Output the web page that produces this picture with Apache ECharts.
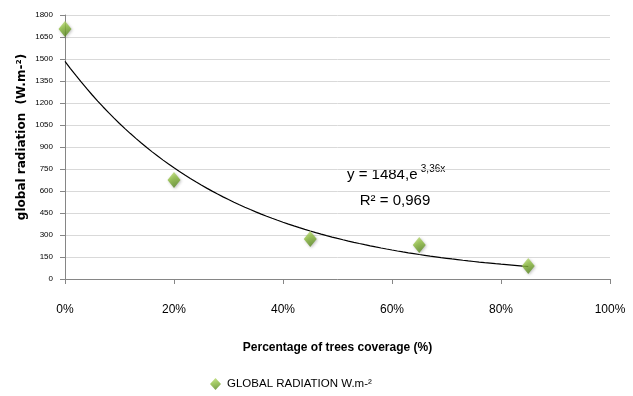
<!DOCTYPE html>
<html>
<head>
<meta charset="utf-8">
<script src="https://cdn.jsdelivr.net/npm/echarts@6/dist/echarts.min.js"></script>
<style>
  html, body { margin: 0; padding: 0; background: #fff; }
  #chart { width: 633px; height: 396px; }
</style>
</head>
<body>
<div id="chart"></div>
<script>
// Tree coverage (fraction) and measured global radiation (W.m-2)
const coverage = [0, 0.20, 0.45, 0.65, 0.85];
const radiation = [1705, 675, 272, 232, 89];

// Exponential trend line coefficients: y = a·e^(b·x)
const trendA = 1484;
const trendB = -3.36;
const trendR2 = '0,969';

const yTicks = { min: 0, max: 1800, interval: 150 };
const xTicks = { min: 0, max: 1, interval: 0.2 };

const FONT = '"Liberation Sans", Arial, sans-serif';
const WIDE = '"DejaVu Sans", Verdana, sans-serif';

// sample the trend curve over the measured range
const trend = [];
for (let i = 0; i <= 85; i++) {
  const x = i / 100;
  trend.push([x, trendA * Math.exp(trendB * x)]);
}

const diamondColor = {
  type: 'linear', x: 0, y: 0, x2: 0.3, y2: 1,
  colorStops: [
    { offset: 0, color: '#c2e07a' },
    { offset: 0.5, color: '#8cbc3e' },
    { offset: 1, color: '#5d8c24' }
  ]
};

const chart = echarts.init(document.getElementById('chart'));
chart.setOption({
  animation: false,
  backgroundColor: '#fff',
  grid: { left: 65, right: 23, top: 15, bottom: 117, containLabel: false },
  xAxis: {
    type: 'value',
    min: xTicks.min, max: xTicks.max, interval: xTicks.interval,
    name: 'Percentage of trees coverage (%)',
    nameLocation: 'middle', nameGap: 63,
    nameTextStyle: { fontFamily: FONT, fontSize: 12, fontWeight: 'bold', color: '#000' },
    axisLine: { lineStyle: { color: '#868686', width: 1 } },
    axisTick: { show: true, inside: false, length: 5, lineStyle: { color: '#868686' } },
    axisLabel: {
      fontFamily: FONT, fontSize: 12, color: '#000', margin: 25,
      formatter: v => Math.round(v * 100) + '%'
    },
    splitLine: { show: false }
  },
  yAxis: {
    type: 'value',
    min: yTicks.min, max: yTicks.max, interval: yTicks.interval,
    axisLine: { show: true, lineStyle: { color: '#868686', width: 1 } },
    axisTick: { show: true, inside: false, length: 5, lineStyle: { color: '#868686' } },
    axisLabel: {
      fontFamily: FONT, fontSize: 8, color: '#000', margin: 12,
      formatter: v => String(v)
    },
    splitLine: { show: true, lineStyle: { color: '#d9d9d9', width: 1 } }
  },
  legend: {
    bottom: 1, left: 205,
    data: [{ name: 'GLOBAL RADIATION W.m-²', icon: 'diamond' }],
    itemWidth: 11, itemHeight: 12,
    textStyle: { fontFamily: FONT, fontSize: 11.5, color: '#000', padding: [0, 0, 0, 1] }
  },
  series: [
    {
      name: 'trend',
      type: 'line',
      data: trend,
      showSymbol: false,
      symbol: 'none',
      lineStyle: { color: '#000', width: 1.2 },
      z: 2,
      silent: true
    },
    {
      name: 'GLOBAL RADIATION W.m-²',
      type: 'scatter',
      data: coverage.map((c, i) => [c, radiation[i]]),
      symbol: 'diamond',
      symbolSize: [13, 16],
      itemStyle: { color: diamondColor, shadowColor: 'rgba(0,0,0,0.3)', shadowBlur: 3, shadowOffsetX: 1, shadowOffsetY: 1 },
      z: 3
    }
  ],
  graphic: [
    {
      // vertical y-axis title
      type: 'text', x: 22, y: 137, rotation: Math.PI / 2,
      style: {
        text: 'global radiation  (W.m-²)',
        fontFamily: WIDE, fontSize: 12, fontWeight: 'bold', fill: '#000',
        align: 'center', verticalAlign: 'middle'
      }
    },
    {
      type: 'text', left: 347, top: 164,
      style: {
        text: '{a|y = ' + trendA + ',e}{s|' + String(trendB).replace('.', ',') + 'x}',
        rich: {
          a: { fontFamily: FONT, fontSize: 15, fill: '#000', verticalAlign: 'bottom' },
          s: { fontFamily: FONT, fontSize: 10, fill: '#000', verticalAlign: 'top', padding: [0, 0, 8, 0] }
        }
      }
    },
    {
      type: 'text', x: 395, y: 201,
      style: {
        text: 'R² = ' + trendR2, fontFamily: FONT, fontSize: 15, fill: '#000',
        align: 'center', verticalAlign: 'middle'
      }
    }
  ]
});
</script>
</body>
</html>
